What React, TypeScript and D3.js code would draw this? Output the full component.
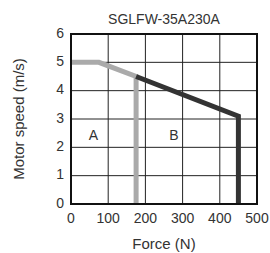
import React from 'react';
import * as d3 from 'd3';

const title = 'SGLFW-35A230A';
const xTicks = [0, 100, 200, 300, 400, 500];
const yTicks = [0, 1, 2, 3, 4, 5, 6];
// region A: continuous curve (gray)
const curveA = [
  { force: 0, speed: 5 },
  { force: 75, speed: 5 },
  { force: 175, speed: 4.5 },
  { force: 175, speed: 0 },
];
// region B: peak curve (dark)
const curveB = [
  { force: 175, speed: 4.5 },
  { force: 450, speed: 3.1 },
  { force: 450, speed: 0 },
];
const regionLabels = [
  { text: 'A', force: 60, speed: 2.4 },
  { text: 'B', force: 277, speed: 2.4 },
];

const width = 270;
const height = 253;
const marginLeft = 71;
const marginRight = 13;
const marginTop = 34;
const marginBottom = 49;

export default function App() {
  const x = d3.scaleLinear().domain([0, 500]).range([marginLeft, width - marginRight]);
  const y = d3.scaleLinear().domain([0, 6]).range([height - marginBottom, marginTop]);

  const line = d3.line<{ force: number; speed: number }>()
    .x(d => x(d.force))
    .y(d => y(d.speed));

  const font = '"Liberation Sans", Arial, sans-serif';

  return (
    <svg width={width} height={height} style={{ position: 'absolute', left: 0, top: 0 }} fontFamily={font}>
      <rect width={width} height={height} fill="#fff" />
      <text x={x(250)} y={24} textAnchor="middle" fontSize={14} fill="#333">{title}</text>

      {/* grid */}
      <g stroke="#222" strokeWidth={1}>
        {xTicks.slice(1, -1).map(t => (
          <line key={'gx' + t} x1={x(t)} x2={x(t)} y1={y(0)} y2={y(6)} />
        ))}
        {yTicks.slice(1, -1).map(t => (
          <line key={'gy' + t} x1={x(0)} x2={x(500)} y1={y(t)} y2={y(t)} />
        ))}
      </g>

      <path d={line(curveA) ?? ''} fill="none" stroke="#aaaaaa" strokeWidth={5} strokeLinejoin="miter" />
      <path d={line(curveB) ?? ''} fill="none" stroke="#333333" strokeWidth={5} strokeLinejoin="miter" />

      <rect x={x(0)} y={y(6)} width={x(500) - x(0)} height={y(0) - y(6)} fill="none" stroke="#111" strokeWidth={2} />

      {regionLabels.map(l => (
        <text key={l.text} x={x(l.force)} y={y(l.speed)} textAnchor="middle" dominantBaseline="middle" fontSize={14} fill="#333">{l.text}</text>
      ))}

      {/* axes labels */}
      {yTicks.map(t => (
        <text key={'yt' + t} x={x(0) - 7} y={y(t)} textAnchor="end" dominantBaseline="middle" fontSize={14} fill="#333">{t}</text>
      ))}
      {xTicks.map(t => (
        <text key={'xt' + t} x={x(t)} y={y(0) + 19} textAnchor="middle" fontSize={14} fill="#333">{t}</text>
      ))}
      <text x={x(250)} y={249} textAnchor="middle" fontSize={15} fill="#333">Force (N)</text>
      <text transform={`translate(24,${(y(0) + y(6)) / 2}) rotate(-90)`} textAnchor="middle" fontSize={15} fill="#333">Motor speed (m/s)</text>
    </svg>
  );
}
